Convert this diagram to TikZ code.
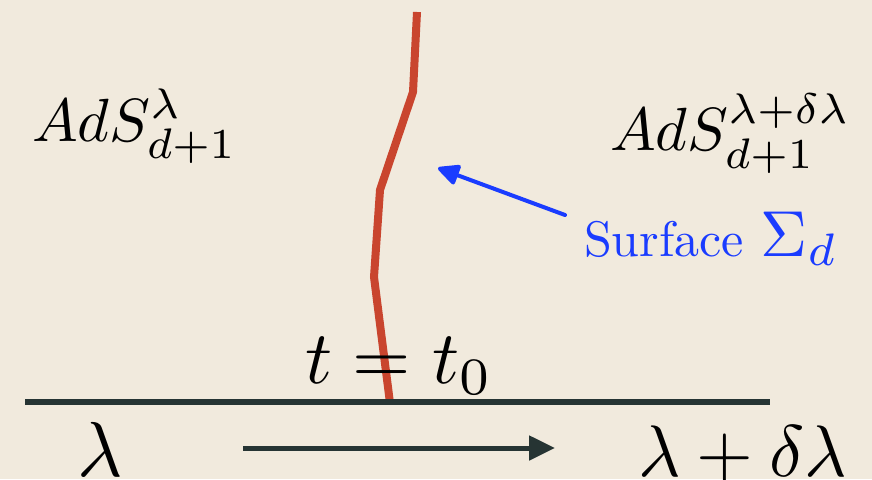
\documentclass[tikz,border=0pt]{standalone}
\usepackage{graphicx}
\usetikzlibrary{arrows.meta}
\definecolor{paper}{RGB}{241,234,221}
\definecolor{surfred}{RGB}{201,69,46}
\definecolor{slate}{RGB}{38,52,51}
\definecolor{surfblue}{RGB}{26,60,255}
\tikzset{
  lbl/.style={inner sep=0pt, outer sep=0pt, anchor=base west, text=black},
  surfline/.style={draw=surfred, line width=8pt, line join=miter},
  axisline/.style={draw=slate, line width=6pt},
  flowarrow/.style={draw=slate, line width=5pt, -{Triangle[length=26pt,width=24pt]}},
  pointer/.style={draw=surfblue, line width=4pt, line cap=round, -{Triangle[length=24pt,width=22pt,round]}}
}
\begin{document}
\begin{tikzpicture}[x=1pt,y=-1pt]
\fill[paper] (0,0) rectangle (872,479);
\useasboundingbox (0,0) rectangle (872,479);
% surface curve
\coordinate (s1) at (417,12);
\coordinate (s2) at (413,92);
\coordinate (s3) at (380,190);
\coordinate (s4) at (374,277);
\coordinate (s5) at (390,403);
\draw[surfline] (s1) -- (s2) -- (s3) -- (s4) -- (s5);
% horizontal line
\coordinate (h1) at (25,402);
\coordinate (h2) at (770,402);
\draw[axisline] (h1) -- (h2);
% flow arrow
\coordinate (a1) at (243,448);
\coordinate (a2) at (555,448);
\draw[flowarrow] (a1) -- (a2);
% labels
\node[lbl] (adsl) at (32,141) {\scalebox{6.1}{$AdS^{\lambda}_{d+1}$}};
\node[lbl] (adsr) at (610,150) {\scalebox{6.1}{$AdS^{\lambda+\delta\lambda}_{d+1}$}};
\node[lbl] (teq) at (305,383) {\scalebox{7.5}{$t=t_0$}};
\node[lbl] (lam) at (77,476) {\scalebox{7.8}{$\lambda$}};
\node[lbl] (lamd) at (638,476) {\scalebox{7.3}{$\lambda+\delta\lambda$}};
\node[lbl, text=surfblue] (surf) at (584,256) {\scalebox{5.0}{Surface\ }\scalebox{6.5}{$\Sigma_d$}};
% pointer
\coordinate (p1) at (565,215);
\coordinate (p2) at (438,168);
\draw[pointer] (p1) -- (p2);
\end{tikzpicture}
\end{document}
